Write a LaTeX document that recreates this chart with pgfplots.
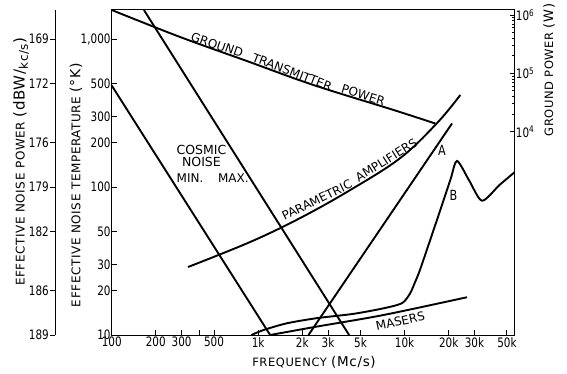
\documentclass[border=0pt]{standalone}
\usepackage{pgfplots}
\pgfplotsset{compat=1.18}
\usepackage{fontspec}
\setmainfont{DejaVu Sans}
\newfontfamily\cond{DejaVu Sans}[FakeStretch=0.8]
\newfontfamily\lab{DejaVu Sans}[LetterSpace=5]
\tikzset{
  curve/.style={black, line width=1.9pt},
  inlab/.style={font=\fontsize{12}{12}\selectfont},
}
\begin{document}
\begin{tikzpicture}[x=1pt,y=1pt]
\useasboundingbox (0,0) rectangle (567,373);
\pgfplotsset{
  every axis/.append style={
    scale only axis, height=325pt,
    ymode=log, ymin=10, ymax=1570,
    /pgf/number format/assume math mode=true,
    tick label style={font=\fontsize{13}{13}\selectfont\cond},
    axis line style={line width=1pt},
    tick style={line width=0.9pt, black},
    major tick length=5pt,
    clip mode=individual,
  },
}
% ---------- main axis: temperature vs frequency
\begin{axis}[
  at={(111.7pt,38pt)}, anchor=south west, width=403pt,
  xmode=log, xmin=100, xmax=56500,
  tick align=inside, xtick pos=bottom, ytick pos=left,
  xtick={100,200,300,400,500,1000,2000,3000,5000,10000,20000,30000,50000},
  xticklabels={100,200,300,,500,1k,2k,3k,5k,10k,20k,30k,50k},
  minor xtick={}, minor ytick={},
  ytick={10,20,30,50,100,200,300,500,1000},
  yticklabels={10,20,30,50,100,200,300,500,{1,000}},
  yticklabel style={inner sep=1pt},
  xticklabel style={inner sep=2pt},
]
% cosmic noise min
\addplot[curve, no marks] coordinates {(100,485) (1208,10)};
% cosmic noise max
\addplot[curve, no marks] coordinates {(166,1570) (4180,10)};
% parametric amplifiers
\addplot[curve, no marks, smooth, tension=0.6] coordinates {
  (332,28.8) (882,42.5) (1937,61.7) (4256,95.4) (9352,157) (16700,271) (24000,418)};
% line A
\addplot[curve, no marks] coordinates {(2207,10) (21100,269)};
% curve B
\addplot[curve, no marks, smooth, tension=0.45] coordinates {
  (900,10) (1087,10.8) (1571,12.0) (2519,13.0) (4481,13.9) (7180,15.15)
  (9600,16.4) (10900,19.1) (11800,22.8) (12800,27.9) (16200,55.4)
  (20500,111) (22800,150) (27700,110) (33800,80.8) (44400,103) (56500,126)};
% masers
\addplot[curve, no marks, smooth, tension=0.5] coordinates {
  (1208,10) (2519,11.4) (7180,13.65) (26700,18.0)};

\node[inlab, rotate=26] at (axis cs:2519,81.7) {PARAMETRIC};
\node[inlab, rotate=32] at (axis cs:7497,152) {AMPLIFIERS};
\node[inlab, rotate=-19] at (axis cs:524.6,911) {GROUND};
\node[inlab, rotate=-21] at (axis cs:1708,598) {TRANSMITTER};
\node[inlab, rotate=-17] at (axis cs:5220,418) {POWER};
\node[font=\fontsize{12.5}{12.5}\selectfont, align=center] at (axis cs:410,162) {COSMIC\\[-1pt]NOISE};
\node[inlab] at (axis cs:343,114.5) {MIN.};
\node[inlab] at (axis cs:678,114.5) {MAX.};
\node[font=\fontsize{14}{14}\selectfont\cond] at (axis cs:18000,178) {A};
\node[font=\fontsize{14}{14}\selectfont\cond] at (axis cs:21600,88) {B};
\node[inlab, rotate=12] at (axis cs:9346,12.4) {MASERS};
\end{axis}
% ---------- right axis: ground power
\begin{axis}[
  at={(111.7pt,38pt)}, anchor=south west, width=403pt,
  xmode=log, xmin=100, xmax=56500,
  ymin=3.28, ymax=1.218e6,
  axis y line*=right, hide x axis,
  tick align=inside,
  ytick={1e4,1e5,1e6},
  yticklabels={10\textsuperscript{4},10\textsuperscript{5},10\textsuperscript{6}},
  minor ytick={},
  yticklabel style={inner sep=1pt},
]
% ground transmitter power
\addplot[curve, no marks, smooth, tension=0.6] coordinates {
  (100,1.218e6) (293,4.20e5) (837,1.628e5) (2388,6.31e4) (8413,2.355e4) (16200,1.382e4)};
\end{axis}
% ---------- far left axis: effective noise power
\begin{axis}[
  at={(55pt,38pt)}, anchor=south west, width=1pt,
  xmin=0, xmax=1,
  axis y line*=left, hide x axis,
  tick align=outside,
  ytick={10,20,50,100,200,500,1000},
  yticklabels={189,186,182,179,176,172,169},
  minor ytick={},
  yticklabel style={inner sep=1pt},
]
\end{axis}
% ---------- axis titles
\node[rotate=90, font=\fontsize{12}{12}\selectfont\lab] at (76,188) {EFFECTIVE NOISE TEMPERATURE {\fontsize{14}{14}\selectfont(°K)}};
\node[rotate=90, font=\fontsize{12}{12}\selectfont\lab] at (21,211) {EFFECTIVE NOISE POWER {\fontsize{15}{15}\selectfont(dBW/\raisebox{-0.4ex}{\fontsize{12}{12}\selectfont kc/s})}};
\node[font=\fontsize{11.5}{12}\selectfont\lab] at (314,11) {FREQUENCY {\fontsize{13.5}{14}\selectfont(Mc/s)}};
\node[rotate=90, font=\fontsize{11.5}{12}\selectfont\lab] at (549,303) {GROUND POWER {\fontsize{13}{13}\selectfont(W)}};
\end{tikzpicture}
\end{document}
